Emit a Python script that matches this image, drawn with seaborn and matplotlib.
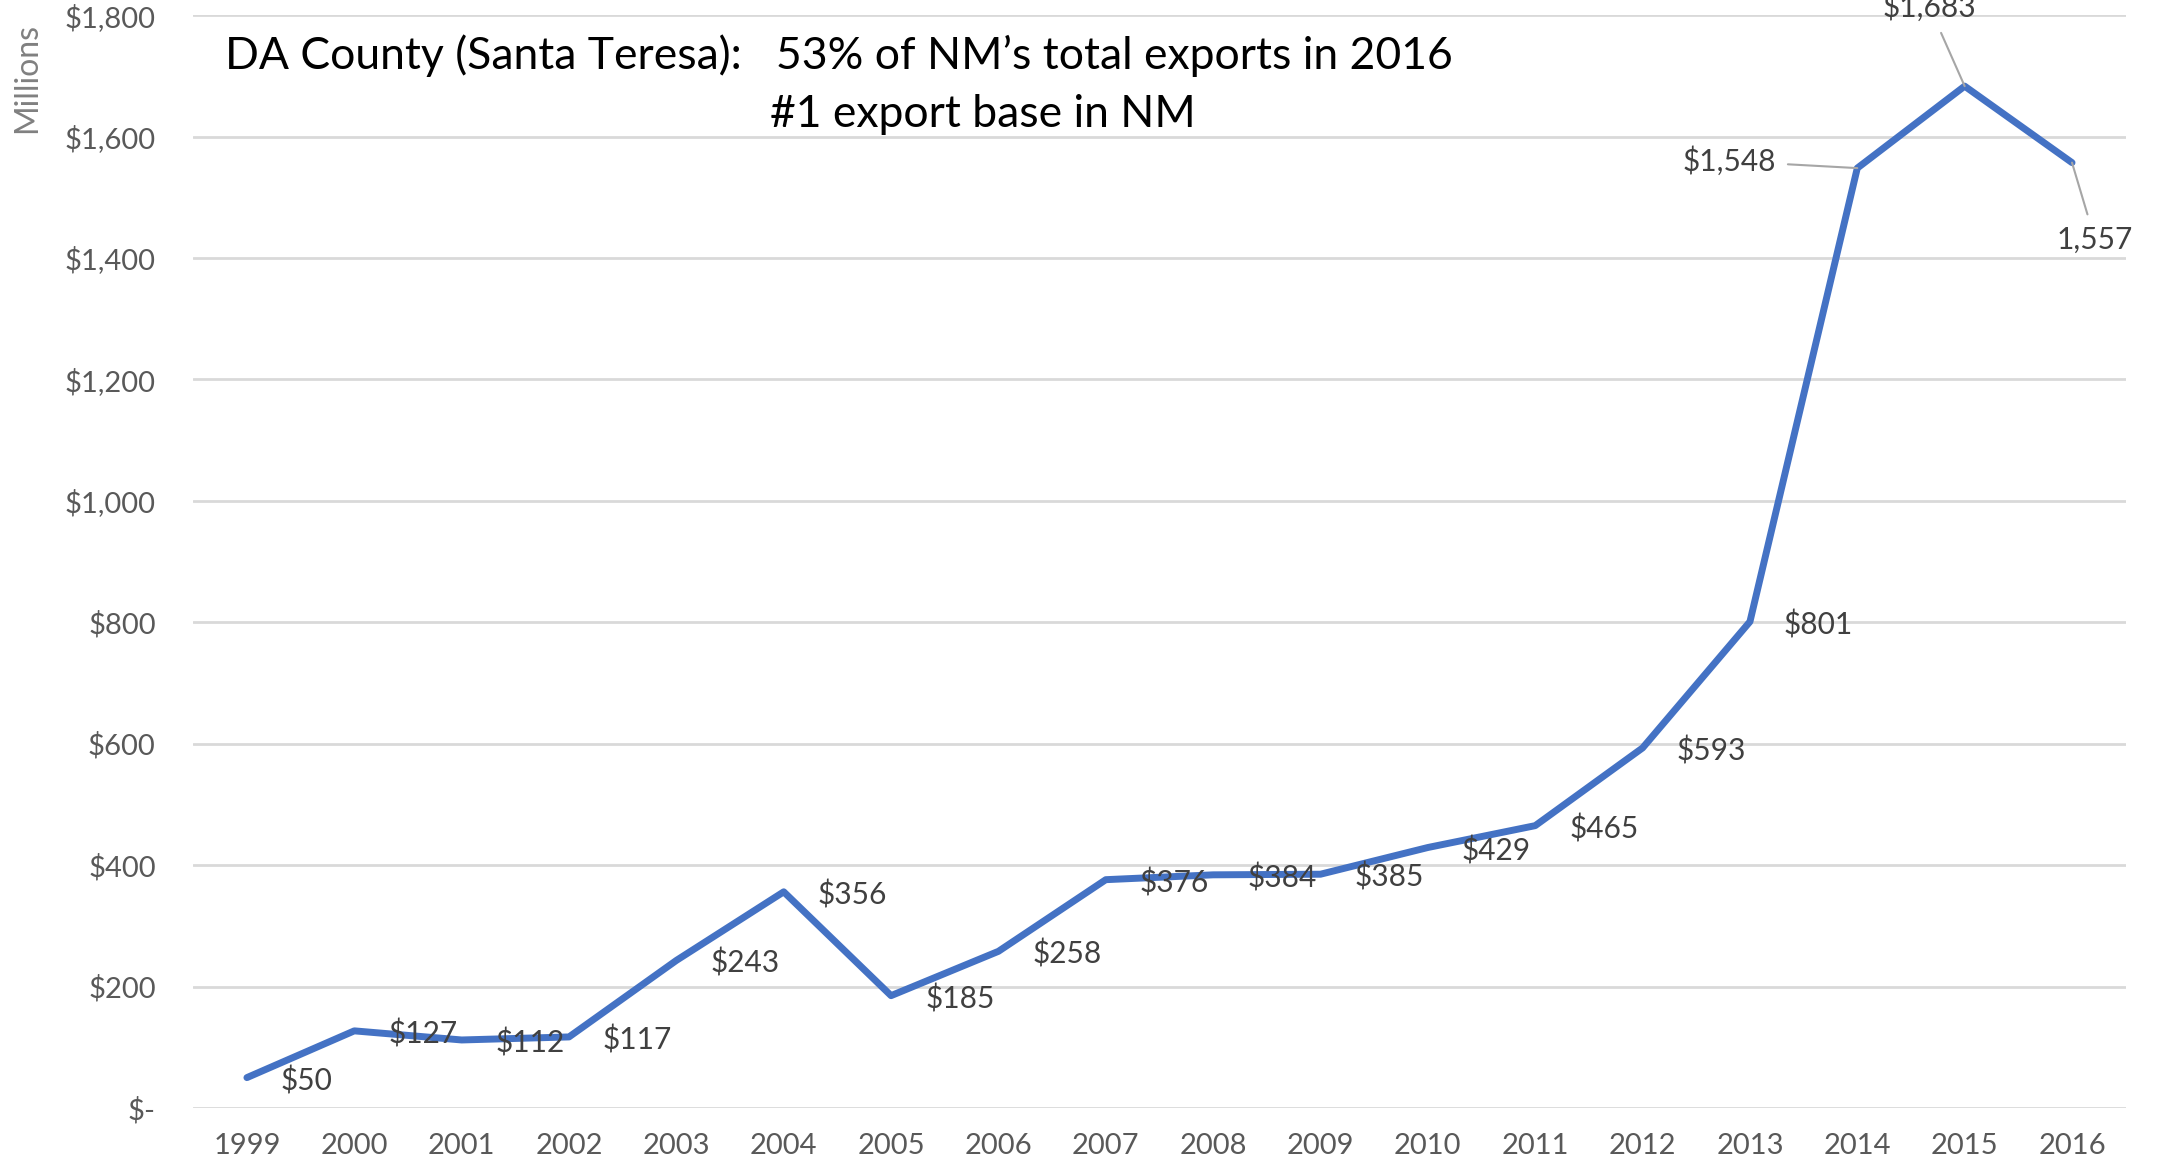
import numpy as np
import pandas as pd
import matplotlib
matplotlib.use("Agg")
import matplotlib.pyplot as plt
import seaborn as sns

years = ["1999", "2000", "2001", "2002", "2003", "2004", "2005", "2006", "2007",
         "2008", "2009", "2010", "2011", "2012", "2013", "2014", "2015", "2016"]
exports = [50, 127, 112, 117, 243, 356, 185, 258, 376,
           384, 385, 429, 465, 593, 801, 1548, 1683, 1557]
point_labels = ["$50", "$127", "$112", "$117", "$243", "$356", "$185", "$258", "$376",
                "$384", "$385", "$429", "$465", "$593", "$801", "$1,548", "$1,683", "1,557"]
y_ticks = [0, 200, 400, 600, 800, 1000, 1200, 1400, 1600, 1800]
y_ticklabels = ["$-", "$200", "$400", "$600", "$800", "$1,000", "$1,200",
                "$1,400", "$1,600", "$1,800"]

sns.set_theme(style="white")
plt.rcParams["font.family"] = ["Lato", "DejaVu Sans"]

df = pd.DataFrame({"year": years, "exports": exports})

fig = plt.figure(figsize=(21.64, 11.62), dpi=100)
ax = fig.add_axes([0.0893, 0.0465, 0.893, 0.9405])

sns.lineplot(data=df, x="year", y="exports", ax=ax, color="#4472C4",
             linewidth=5, sort=False)

ax.set_xlim(-0.5, len(years) - 0.5)
ax.set_ylim(0, 1800)
ax.set_yticks(y_ticks)
ax.set_yticklabels(y_ticklabels)
ax.grid(axis="y", color="#D9D9D9", linewidth=2)
ax.set_axisbelow(True)
for s in ax.spines.values():
    s.set_visible(False)
ax.tick_params(axis="x", length=0, pad=18, labelsize=21, labelcolor="#595959")
ax.tick_params(axis="y", length=0, pad=27, labelsize=21, labelcolor="#595959")
ax.set_xlabel("")
ax.set_ylabel("")

# data labels (last three use leader lines)
special = {
    15: dict(xytext=(-81, 7), ha="right"),
    16: dict(xytext=(-35, 79), ha="center"),
    17: dict(xytext=(23, -77), ha="center"),
}
for i, (v, lab) in enumerate(zip(exports, point_labels)):
    if i in special:
        sp = special[i]
        ax.annotate(lab, xy=(i, v), xytext=sp["xytext"], textcoords="offset pixels",
                    ha=sp["ha"], va="center", fontsize=21.5, color="#404040",
                    annotation_clip=False,
                    arrowprops=dict(arrowstyle="-", color="#A6A6A6", lw=1.5,
                                    shrinkA=6, shrinkB=0))
    else:
        ax.annotate(lab, xy=(i, v), xytext=(34, -3), textcoords="offset pixels",
                    ha="left", va="center", fontsize=21.5, color="#404040")

fig.text(0.0125, 0.933, "Millions", rotation=90, ha="center", va="center",
         fontsize=23, color="#808080")

fig.text(0.104, 0.9406, "DA County (Santa Teresa):   53% of NM\u2019s total exports in 2016",
         ha="left", va="baseline", fontsize=32, color="black")
fig.text(0.356, 0.891, "#1 export base in NM",
         ha="left", va="baseline", fontsize=32, color="black")

fig.savefig("out.png", dpi=100)
